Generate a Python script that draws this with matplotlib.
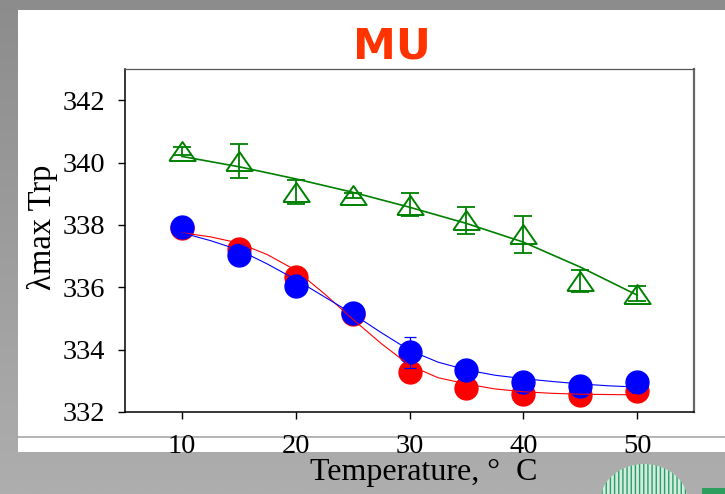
import numpy as np
import matplotlib.pyplot as plt
from matplotlib.patches import Rectangle, Ellipse
from matplotlib.colors import LinearSegmentedColormap

# measured points
temps = [10, 15, 20, 25, 30, 35, 40, 45, 50]
green_y = [340.37, 340.05, 339.05, 338.95, 338.65, 338.15, 337.7, 336.2, 335.8]
green_err = [0.12, 0.55, 0.38, 0.08, 0.37, 0.43, 0.6, 0.35, 0.25]
red_y = [337.9, 337.22, 336.33, 335.15, 333.27, 332.77, 332.58, 332.55, 332.67]
blue_y = [337.93, 337.05, 336.04, 335.19, 333.91, 333.35, 332.96, 332.83, 332.96]
blue_err = [0, 0, 0, 0, 0.5, 0, 0, 0, 0]

# fitted curves
fit_t = [10, 12.5, 15, 17.5, 20, 22.5, 25, 27.5, 30, 32.5, 35, 37.5, 40, 42.5, 45, 47.5, 50]
red_fit = [337.75, 337.62, 337.42, 337.05, 336.55, 335.8, 334.98, 334.2, 333.5, 333.1,
           332.9, 332.74, 332.65, 332.6, 332.57, 332.56, 332.55]
blue_fit = [337.75, 337.5, 337.2, 336.75, 336.25, 335.7, 335.15, 334.55, 333.98, 333.6,
            333.35, 333.18, 333.07, 332.98, 332.9, 332.84, 332.8]
green_fit_t = [10, 15, 20, 25, 30, 35, 40, 45, 50]
green_fit = [340.2, 339.87, 339.48, 339.05, 338.57, 338.05, 337.45, 336.65, 335.75]

serif = ['Liberation Serif', 'DejaVu Serif']

fig = plt.figure(figsize=(7.25, 4.94), dpi=100)

# slide background
bg = fig.add_axes([0, 0, 1, 1], zorder=-10)
grad = np.linspace(0, 1, 256).reshape(-1, 1)
bg.imshow(grad, extent=[0, 725, 494, 0], aspect='auto',
          cmap=LinearSegmentedColormap.from_list('g', ['#8c8c8c', '#aeaeae']))
bg.add_patch(Rectangle((18, 10), 707, 442, facecolor='white', edgecolor='none'))
bg.plot([18, 725], [437, 437], color='#a8a8a8', lw=1.2)
bg.add_patch(Ellipse((644, 502), 88, 76, facecolor='#cfeedd', edgecolor='#2f9a68', hatch='||||', lw=0))
bg.add_patch(Rectangle((702, 488), 23, 6, facecolor='#2e9e5e', edgecolor='none'))
bg.set_xlim(0, 725)
bg.set_ylim(494, 0)
bg.axis('off')

ax = fig.add_axes([0.1724, 0.166, 0.785, 0.694])
ax.set_facecolor('white')

tri = [(-1, -0.72), (1, -0.72), (0, 0.72), (-1, -0.72)]

ax.plot(temps, red_y, 'o', color='red', ms=16.5, mec='red', zorder=2)
ax.plot(temps, blue_y, 'o', color='blue', ms=16.5, mec='blue', zorder=3)
ax.plot(fit_t, red_fit, color='red', lw=0.8, zorder=4)
ax.plot(fit_t, blue_fit, color='blue', lw=0.8, zorder=4)
ax.errorbar(temps, blue_y, yerr=blue_err, fmt='none', ecolor='blue', elinewidth=0.9,
            capsize=4.5, capthick=0.9, zorder=5)

ax.plot(temps, green_y, linestyle='none', marker=tri, ms=19, mfc='none', mec='#008000',
        mew=1.4, zorder=4)
ax.errorbar(temps, green_y, yerr=green_err, fmt='none', ecolor='#008000', elinewidth=1.3,
            capsize=6.5, capthick=1.3, zorder=5)
ax.plot(green_fit_t, green_fit, color='#008000', lw=1.2, zorder=5)

ax.set_xlim(5, 55)
ax.set_ylim(332, 343)
ax.set_xticks([10, 20, 30, 40, 50])
ax.set_yticks([332, 334, 336, 338, 340, 342])
ax.tick_params(axis='both', direction='out', length=5, width=1, labelsize=20.5, top=False, right=False)
ax.tick_params(axis='x', pad=11)
ax.tick_params(axis='y', pad=9)
for lab in ax.get_xticklabels() + ax.get_yticklabels():
    lab.set_family(serif)

ax.spines['left'].set_linewidth(1.1)
ax.spines['bottom'].set_linewidth(1.1)
ax.spines['top'].set_color('#555555')
ax.spines['top'].set_linewidth(0.9)
ax.spines['right'].set_color('#666666')
ax.spines['right'].set_linewidth(1.6)

fig.text(0.541, 0.905, 'MU', color='#ff3300', fontsize=31, fontweight='bold',
         family='DejaVu Sans', ha='center', va='center')
fig.text(0.058, 0.54, 'λmax Trp', rotation=90, fontsize=23.5, family=serif,
         ha='center', va='center')
fig.text(0.585, 0.043, 'Temperature, °  C', fontsize=23, family=serif,
         ha='center', va='center')

fig.savefig('out.png', dpi=100)
